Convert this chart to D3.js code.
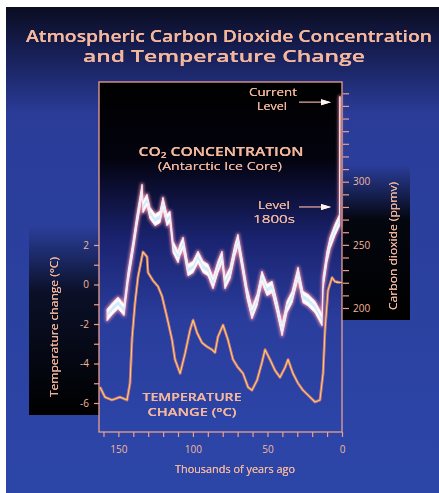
<!DOCTYPE html>
<html>
<head>
<meta charset="utf-8">
<script src="https://cdn.jsdelivr.net/npm/d3@7/dist/d3.min.js"></script>
<style>
  html, body { margin: 0; padding: 0; background: #fff; }
  svg { display: block; }
  text { font-family: "Open Sans", "DejaVu Sans", sans-serif; }
</style>
</head>
<body>
<svg id="chart" width="439" height="493"></svg>
<script>
// Temperature change (°C) vs thousands of years ago
const tempAge = [162.3, 159, 154.3, 148.9, 144.2, 142.2, 140.8, 138.8, 136.8, 133.5, 130.8, 130.1, 126.8,
  123.4, 120.7, 117.4, 114, 112, 108.6, 105.3, 101.9, 99.9, 97.2, 93.9, 90.5, 87.2, 85.2, 83.2, 79.8,
  76.5, 73.1, 69.8, 66.4, 63, 60.4, 57, 53.7, 51.6, 48.3, 44.9, 41.6, 38.2, 36.2, 32.9, 29.5, 26.2,
  22.8, 18.1, 14.8, 12.7, 11.4, 9.4, 6.7, 4.7, 1.3];
const tempC = [-5.2, -5.7, -5.85, -5.7, -5.85, -5, -2.7, -0.9, 0.4, 1.65, 1.4, 0.6, 0.2,
  -0.1, -0.6, -1.65, -2.8, -3.8, -4.5, -3.5, -2.3, -1.8, -2.45, -2.95, -3.15, -3.3, -3.45, -2.65, -2.05,
  -2.8, -3.8, -4.2, -4.5, -5.2, -5.35, -4.85, -3.95, -3.3, -3.8, -4.35, -4.7, -4.2, -3.8, -4.5, -5, -5.35,
  -5.6, -5.95, -5.85, -4.5, -2.3, -0.3, 0.35, 0.15, 0.1];

// CO2 concentration (ppmv), Antarctic ice core
const co2Age = [157.6, 153.6, 150.2, 146.2, 143.5, 140.2, 137.5, 134.1, 133.5, 130.8, 128.8, 125.4, 122.1,
  120.1, 117.4, 115.4, 113.3, 110, 108.7, 106.6, 103.3, 99.9, 96.6, 93.2, 89.9, 86.5, 83.2, 80.5, 78.5,
  75.1, 71.8, 69.8, 67.1, 63.7, 60.4, 57, 53.7, 50.3, 46.9, 43.6, 40.2, 36.9, 33.5, 29.5, 26.2, 22.8,
  18.1, 13.4, 12.7, 10.1, 8, 4.7, 1.6, 1.4];
const co2Ppmv = [194.5, 200, 204, 198.5, 224.5, 248.3, 269.7, 293.4, 280, 285.5, 275.2, 269.7, 272.1,
  283.1, 269.7, 272.1, 248.3, 240.4, 245.9, 251.5, 230.1, 232.5, 240.4, 232.5, 230.1, 219.8, 232.5, 240.4, 219.8,
  227.7, 245.9, 253.8, 235.6, 211.9, 196, 206.3, 224.5, 214.3, 216.6, 200.8, 182.6, 200.8, 208.7, 227.7, 208.7, 206.3,
  200.8, 190.5, 219.8, 240.4, 251.5, 261.8, 269.7, 363];

const currentLevel = 363;
const level1800s = 280;

const xTicks = d3.range(0, 161, 10);
const xLabels = [150, 100, 50, 0];
const tempTicks = d3.range(-6, 2.1, 1);
const tempLabels = [-6, -4, -2, 0, 2];
const co2Ticks = d3.range(200, 371, 10);
const co2Labels = [200, 250, 300];

const svg = d3.select('#chart');
const pink = '#eaa08e';
const peach = '#f4b79c';

const plot = { left: 99, right: 342, top: 82, bottom: 432 };

const x = d3.scaleLinear().domain([163, 0]).range([plot.left, plot.right]);
const yT = d3.scaleLinear().domain([2, -6]).range([245, 403]);
const yC = d3.scaleLinear().domain([300, 200]).range([181.7, 308]);

// defs: gradients + glow filters
const defs = svg.append('defs');
function vgrad(id, stops) {
  const g = defs.append('linearGradient').attr('id', id)
    .attr('x1', 0).attr('y1', 0).attr('x2', 0).attr('y2', 1);
  stops.forEach(s => g.append('stop').attr('offset', s[0]).attr('stop-color', s[1])
    .attr('stop-opacity', s[2] == null ? 1 : s[2]));
}
vgrad('bg', [[0, '#0b0d20'], [0.08, '#151c4e'], [0.22, '#2a3c98'], [1, '#2c46a8']]);
vgrad('inner', [[0, '#000000'], [0.22, '#03030f'], [0.45, '#1a2370'], [0.68, '#2a3d9c'], [1, '#2c45a8']]);
vgrad('boxL', [[0, '#000', 0], [0.35, '#000', 0.75], [1, '#000', 1]]);
vgrad('boxR', [[0, '#000', 0], [0.35, '#000', 0.9], [1, '#000', 1]]);

function glow(id, sd) {
  const f = defs.append('filter').attr('id', id)
    .attr('x', '-20%').attr('y', '-20%').attr('width', '140%').attr('height', '140%');
  f.append('feGaussianBlur').attr('stdDeviation', sd).attr('result', 'b');
  const m = f.append('feMerge');
  m.append('feMergeNode').attr('in', 'b');
  m.append('feMergeNode').attr('in', 'SourceGraphic');
}
glow('glowS', 0.6);
defs.append('filter').attr('id', 'blur').attr('x', '-10%').attr('y', '-10%')
  .attr('width', '120%').attr('height', '120%')
  .append('feGaussianBlur').attr('stdDeviation', 1.4);

// background
svg.append('rect').attr('x', 6).attr('y', 7).attr('width', 433).attr('height', 486)
  .attr('fill', 'url(#bg)');

// dark boxes behind the side axis titles
svg.append('rect').attr('x', 29).attr('y', 225).attr('width', plot.left - 29).attr('height', 190)
  .attr('fill', 'url(#boxL)');
svg.append('rect').attr('x', plot.right).attr('y', 165).attr('width', 68).attr('height', 155)
  .attr('fill', 'url(#boxR)');

// plot interior
svg.append('rect').attr('x', plot.left).attr('y', plot.top)
  .attr('width', plot.right - plot.left).attr('height', plot.bottom - plot.top)
  .attr('fill', 'url(#inner)');

// helper for fitted text
function fitText(g, str, xx, yy, size, len, weight) {
  return g.append('text').attr('x', xx).attr('y', yy).attr('text-anchor', 'middle')
    .attr('font-size', size).attr('font-weight', weight || 400)
    .attr('textLength', len).attr('lengthAdjust', 'spacingAndGlyphs').text(str);
}

// title
const title = svg.append('g').attr('fill', peach).attr('filter', 'url(#glowS)');
fitText(title, 'Atmospheric Carbon Dioxide Concentration', 229, 42, 15.5, 406, 600);
fitText(title, 'and Temperature Change', 224, 62, 15.5, 282, 600);

// CO2 band (area with vertical thickness)
const co2Data = d3.zip(co2Age, co2Ppmv);
const band = d3.area().x(d => x(d[0])).y0(d => yC(d[1] - 4.5)).y1(d => yC(d[1] + 4.5));
const bandInner = d3.area().x(d => x(d[0])).y0(d => yC(d[1] - 1.6)).y1(d => yC(d[1] + 1.6));

svg.append('path').datum(co2Data).attr('d', band)
  .attr('fill', '#f7a6bd').attr('stroke', '#ef8aa8').attr('stroke-width', 3)
  .attr('stroke-linejoin', 'round').attr('opacity', 0.9).attr('filter', 'url(#blur)');
svg.append('path').datum(co2Data).attr('d', band)
  .attr('fill', '#ffffff').attr('stroke', '#fde8ef').attr('stroke-width', 1)
  .attr('stroke-linejoin', 'round');
svg.append('path').datum(co2Data).attr('d', bandInner)
  .attr('fill', '#cfe8fa').attr('opacity', 0.9);

// temperature line
const tempData = d3.zip(tempAge, tempC);
const tLine = d3.line().x(d => x(d[0])).y(d => yT(d[1]));
svg.append('path').datum(tempData).attr('d', tLine)
  .attr('fill', 'none').attr('stroke', '#e0708a').attr('stroke-width', 2.6)
  .attr('stroke-linejoin', 'round').attr('opacity', 0.75).attr('filter', 'url(#glowS)');
svg.append('path').datum(tempData).attr('d', tLine)
  .attr('fill', 'none').attr('stroke', '#f8cf5e').attr('stroke-width', 1.2)
  .attr('stroke-linejoin', 'round');
// short marker for present temperature
svg.append('line').attr('x1', x(4)).attr('x2', x(0)).attr('y1', yT(0.1)).attr('y2', yT(0.1))
  .attr('stroke', '#f8cf5e').attr('stroke-width', 1.2);

// frame
svg.append('rect').attr('x', plot.left).attr('y', plot.top)
  .attr('width', plot.right - plot.left).attr('height', plot.bottom - plot.top)
  .attr('fill', 'none').attr('stroke', pink).attr('stroke-width', 1.3);

// axes
function styleAxis(g) {
  g.select('.domain').remove();
  g.selectAll('.tick line').attr('stroke', pink).attr('stroke-width', 1.2);
  g.selectAll('.tick text').attr('fill', peach).attr('font-size', 10)
    .attr('font-family', '"Open Sans", sans-serif');
}
svg.append('g').attr('transform', `translate(0,${plot.bottom})`)
  .call(d3.axisBottom(x).tickValues(xTicks).tickSize(5).tickPadding(9)
    .tickFormat(d => xLabels.includes(d) ? String(d) : ''))
  .call(styleAxis);
svg.append('g').attr('transform', `translate(${plot.left},0)`)
  .call(d3.axisLeft(yT).tickValues(tempTicks).tickSize(5).tickPadding(5)
    .tickFormat(d => tempLabels.includes(d) ? String(d) : ''))
  .call(styleAxis);
svg.append('g').attr('transform', `translate(${plot.right + 1},0)`)
  .call(d3.axisRight(yC).tickValues(co2Ticks).tickSize(6).tickPadding(4)
    .tickFormat(d => co2Labels.includes(d) ? String(d) : ''))
  .call(styleAxis);

// axis titles
const lab = svg.append('g').attr('fill', peach).attr('filter', 'url(#glowS)');
fitText(lab, 'Thousands of years ago', 235, 473, 10, 120);
fitText(lab, 'Temperature change (°C)', 0, 0, 10, 140)
  .attr('transform', 'translate(58,327) rotate(-90)');
fitText(lab, 'Carbon dioxide (ppmv)', 0, 0, 10.5, 128)
  .attr('transform', 'translate(397,246) rotate(-90)');

// in-plot labels
const co2Label = lab.append('text').attr('x', 221).attr('y', 156).attr('text-anchor', 'middle')
  .attr('font-size', 12.5).attr('font-weight', 600)
  .attr('textLength', 165).attr('lengthAdjust', 'spacingAndGlyphs');
co2Label.append('tspan').text('CO');
co2Label.append('tspan').attr('font-size', 8).attr('dy', 2).text('2');
co2Label.append('tspan').attr('dy', -2).text('  CONCENTRATION');
fitText(lab, '(Antarctic Ice Core)', 220, 170, 10.5, 124);

fitText(lab, 'TEMPERATURE', 192, 401, 11.5, 99, 600);
fitText(lab, 'CHANGE (°C)', 192, 416, 11.5, 89, 600);

fitText(lab, 'Current', 273, 96, 10, 48);
fitText(lab, 'Level', 272, 110, 10, 30);
fitText(lab, 'Level', 274, 209, 10, 32);
fitText(lab, '1800s', 274, 223, 10, 42);

// arrows to the current and 1800s levels
[currentLevel, level1800s].forEach(v => {
  const yy = yC(v);
  svg.append('line').attr('x1', 299).attr('x2', 322).attr('y1', yy).attr('y2', yy)
    .attr('stroke', '#f0b0a4').attr('stroke-width', 1.2);
  svg.append('path')
    .attr('d', `M${321},${yy - 3}L${331},${yy}L${321},${yy + 3}Z`)
    .attr('fill', '#fff3f0').attr('filter', 'url(#glowS)');
});
</script>
</body>
</html>
